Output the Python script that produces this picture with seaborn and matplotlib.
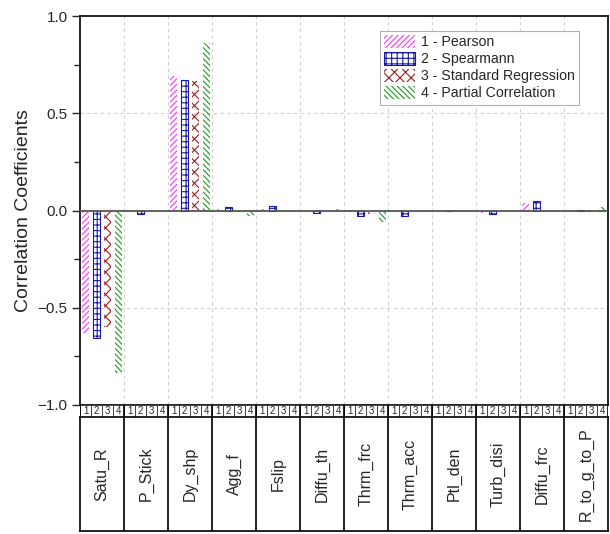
import numpy as np
import pandas as pd
import matplotlib
matplotlib.use("Agg")
import matplotlib.pyplot as plt
import seaborn as sns
from matplotlib.patches import Patch, Rectangle

# ---------------- data ----------------
params = ["Satu_R", "P_Stick", "Dy_shp", "Agg_f", "Fslip", "Diffu_th",
          "Thrm_frc", "Thrm_acc", "Ptl_den", "Turb_disi", "Diffu_frc", "R_to_g_to_P"]
methods = ["1 - Pearson", "2 - Spearmann", "3 - Standard Regression", "4 - Partial Correlation"]
slot_labels = ["1", "2", "3", "4"]
pearson = [-0.63, -0.01, 0.69, 0.01, 0.01, -0.01, -0.01, -0.01, 0.0, -0.015, 0.037, 0.003]
spearman = [-0.655, -0.02, 0.67, 0.02, 0.025, -0.015, -0.03, -0.03, 0.0, -0.02, 0.05, 0.005]
std_reg = [-0.60, 0.0, 0.665, -0.005, 0.0, -0.005, -0.018, 0.0, -0.002, 0.0, 0.0, 0.003]
partial = [-0.835, -0.005, 0.86, -0.03, 0.0, 0.01, -0.06, -0.005, 0.005, 0.0, -0.005, 0.02]
yticks = [-1.0, -0.5, 0.0, 0.5, 1.0]
yminor = [-0.75, -0.25, 0.25, 0.75]

colors = ["#FF33FF", "#1A1AA0", "#A01E1E", "#1E9A1E"]
hatches = ["//////", "+++", "xxx", "\\\\\\\\\\\\"]
edge_lw = [0, 0.8, 0, 0]

df = pd.DataFrame({
    "param": params * 4,
    "method": sum([[m] * len(params) for m in methods], []),
    "value": pearson + spearman + std_reg + partial,
})

sns.set_theme(style="white")
plt.rcParams["font.family"] = ["Liberation Sans", "DejaVu Sans"]
plt.rcParams["hatch.linewidth"] = 0.8

W, H = 610, 534
fig = plt.figure(figsize=(W / 100, H / 100), dpi=100)


def fa(l, t, r, b):
    return [l / W, 1 - b / H, (r - l) / W, (b - t) / H]


ax = fig.add_axes(fa(80, 16, 608, 405))
sns.barplot(data=df, x="param", y="value", hue="method", order=params,
            hue_order=methods, palette=colors, width=1.0, gap=0.3,
            errorbar=None, legend=False, ax=ax)

for cont, col, h, lw in zip(ax.containers, colors, hatches, edge_lw):
    for p in cont.patches:
        p.set_facecolor("none")
        p.set_edgecolor(col)
        p.set_hatch(h)
        p.set_linewidth(lw)

n = len(params)
ax.set_xlim(-0.5, n - 0.5)
ax.set_ylim(-1, 1)
ax.set_xticks([])
ax.set_xlabel("")
ax.set_yticks(yticks)
ax.set_yticklabels([f"{v:.1f}".replace("-", "\u2212") for v in yticks])
ax.set_yticks(yminor, minor=True)
ax.tick_params(axis="y", which="major", left=True, direction="out", length=6,
               width=1, labelsize=11, pad=3)
ax.tick_params(axis="y", which="minor", left=True, direction="out", length=4, width=1)
ax.set_ylabel("Correlation Coefficients", fontsize=14, labelpad=4)
for s in ax.spines.values():
    s.set_visible(True)
    s.set_color("black")
    s.set_linewidth(1.2)

for y in [-0.5, 0.5]:
    ax.axhline(y, color="#d0d0d0", ls=(0, (3, 3)), lw=0.8, zorder=0)
for i in range(n - 1):
    ax.axvline(i + 0.5, color="#d0d0d0", ls=(0, (3, 3)), lw=0.8, zorder=0)
ax.axhline(0, color="#555555", lw=1.3, zorder=5)

handles = [Patch(facecolor="none", edgecolor=c, hatch=h, lw=lw, label=m)
           for c, h, lw, m in zip(colors, hatches, edge_lw, methods)]
leg = ax.legend(handles=handles, loc="upper right", bbox_to_anchor=(0.945, 0.962),
                fontsize=10.2, frameon=True, fancybox=False, framealpha=1,
                edgecolor="#b0b0b0", handlelength=2.2, handleheight=1.0,
                labelspacing=0.2, handletextpad=0.4, borderpad=0.3, borderaxespad=0)
leg.get_frame().set_linewidth(0.8)

# ---------- number row below axis ----------
ax_n = fig.add_axes(fa(80, 405, 608, 417))
ax_n.set_xlim(-0.5, n - 0.5)
ax_n.set_ylim(0, 1)
ax_n.axis("off")
for j, cont in enumerate(ax.containers):
    for p in cont.patches:
        c = p.get_x() + p.get_width() / 2
        slot_w = p.get_width() / 0.7
        ax_n.add_patch(Rectangle((c - slot_w / 2, 0.04), slot_w, 0.92,
                                 facecolor="white", edgecolor="#333333", lw=0.6))
        ax_n.text(c, 0.5, slot_labels[j], ha="center", va="center", fontsize=7)
for i in range(n + 1):
    ax_n.axvline(i - 0.5, color="black", lw=1.2)

# ---------- category row ----------
ax_c = fig.add_axes(fa(80, 417, 608, 531))
ax_c.set_xlim(-0.5, n - 0.5)
ax_c.set_ylim(0, 1)
ax_c.set_xticks([])
ax_c.set_yticks([])
for s in ax_c.spines.values():
    s.set_visible(True)
    s.set_color("black")
    s.set_linewidth(1.2)
for i in range(1, n):
    ax_c.axvline(i - 0.5, color="black", lw=1.2)
for i, name in enumerate(params):
    ax_c.text(i, 0.5, name, rotation=90, ha="center", va="center", fontsize=11.5)

fig.savefig("out.png", dpi=100)
